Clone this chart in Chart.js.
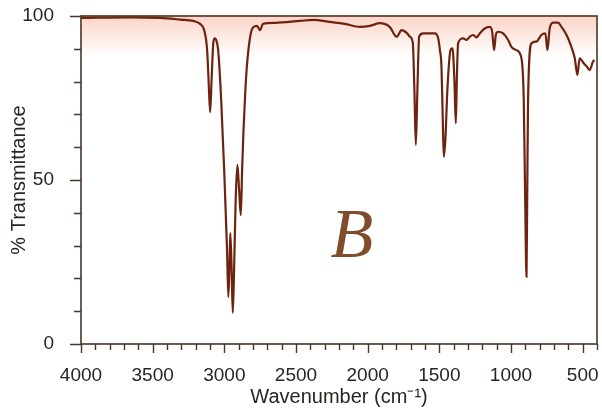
<!DOCTYPE html>
<html>
<head>
<meta charset="utf-8">
<script src="https://cdn.jsdelivr.net/npm/chart.js@4/dist/chart.umd.min.js"></script>
<style>
  html, body { margin: 0; padding: 0; background: #ffffff; }
  #wrap { width: 602px; height: 410px; }
</style>
</head>
<body>
<div id="wrap"><canvas id="c" width="602" height="410"></canvas></div>
<script>
// ---- data ----
const wavenumbers = [
  4000, 3656, 3447, 3308, 3217, 3169, 3141, 3120, 3107, 3099, 3089, 3078, 3069, 3057, 3043,
  3022, 3001, 2981, 2972, 2963, 2958, 2949, 2941, 2932, 2921, 2909, 2897, 2885, 2876, 2867,
  2855, 2843, 2820, 2799, 2772, 2751, 2730, 2646, 2472, 2381, 2263, 2158, 2054, 1984, 1915,
  1845, 1798, 1763, 1726, 1705, 1685, 1674, 1664, 1653, 1641, 1613, 1566, 1531, 1508, 1496,
  1485, 1476, 1469, 1458, 1444, 1422, 1408, 1395, 1385, 1378, 1369, 1334, 1310, 1287, 1264,
  1241, 1218, 1183, 1148, 1131, 1118, 1106, 1090, 1055, 1020, 997, 962, 927, 911, 901,
  892, 887, 881, 857, 823, 788, 760, 746, 730, 707, 672, 648, 625, 602, 579,
  555, 537, 521, 493, 470, 451, 428, 417
];
const transmittance = [
  99.4, 99.6, 99.4, 98.9, 98.5, 97.6, 95.7, 89.6, 77.4, 70.7, 80.5, 91.2, 93.2, 92.7, 89.6,
  74.4, 53.0, 28.7, 14.3, 25.6, 33.8, 22.6, 9.5, 22.6, 43.9, 54.6, 47.0, 39.3, 53.0, 64.3,
  75.9, 84.5, 93.6, 96.6, 97.0, 95.7, 97.6, 97.9, 98.5, 98.8, 98.2, 97.6, 96.7, 97.0, 97.8,
  96.6, 93.7, 95.7, 94.8, 93.7, 91.8, 77.4, 60.7, 77.4, 93.7, 94.7, 94.7, 94.7, 93.2, 89.6,
  84.5, 68.3, 57.1, 62.2, 77.4, 89.6, 90.1, 80.5, 67.3, 80.5, 91.7, 93.2, 92.7, 93.7, 94.2,
  93.5, 94.7, 96.2, 96.7, 95.1, 89.6, 94.2, 95.2, 94.7, 92.7, 90.6, 89.6, 87.1, 74.4, 43.9,
  20.5, 43.9, 74.4, 91.7, 92.2, 94.2, 94.7, 89.6, 96.2, 98.0, 98.0, 96.7, 95.2, 93.2, 90.6,
  87.1, 82.0, 87.1, 85.6, 84.5, 83.5, 86.1, 86.6
];
const xLabelValues = [4000, 3500, 3000, 2500, 2000, 1500, 1000, 500];
const yLabelValues = [0, 50, 100];
const annotationText = 'B';
const annotationAt = { x: 2110, y: 32 };

const FONT = "'Liberation Sans', Arial, Helvetica, sans-serif";
const AXIS_COLOR = '#4a3526';
const TEXT_COLOR = '#2b2522';

const points = wavenumbers.map((w, i) => ({ x: w, y: transmittance[i] }));

const framePlugin = {
  id: 'frame',
  beforeDatasetsDraw(chart) {
    const { ctx, chartArea: a, scales } = chart;
    // faint orange tint of the scanned paper near 100 %
    const y100 = scales.y.getPixelForValue(100);
    const y90 = scales.y.getPixelForValue(88);
    const g = ctx.createLinearGradient(0, y100, 0, y90);
    g.addColorStop(0, 'rgba(244,120,80,0.32)');
    g.addColorStop(1, 'rgba(244,120,80,0)');
    ctx.save();
    ctx.fillStyle = g;
    ctx.fillRect(a.left, y100, a.right - a.left, y90 - y100);
    ctx.restore();
  },
  afterDraw(chart) {
    const { ctx, chartArea: a, scales } = chart;
    const xs = scales.x, ys = scales.y;
    ctx.save();
    ctx.strokeStyle = AXIS_COLOR;
    ctx.lineWidth = 1.6;
    ctx.strokeRect(a.left, a.top, a.right - a.left, a.bottom - a.top);
    ctx.lineWidth = 1.4;
    ctx.beginPath();
    for (let v = 400; v <= 4000; v += 100) {
      const px = Math.round(xs.getPixelForValue(v)) + 0.5;
      const len = v % 500 === 0 ? 9 : 6;
      ctx.moveTo(px, a.bottom);
      ctx.lineTo(px, a.bottom + len);
    }
    for (let v = 0; v <= 100; v += 10) {
      const py = Math.round(ys.getPixelForValue(v)) + 0.5;
      const len = v % 50 === 0 ? 11 : 7;
      ctx.moveTo(a.left - len, py);
      ctx.lineTo(a.left, py);
    }
    ctx.stroke();
    // handwritten-style annotation
    ctx.fillStyle = '#7f4d2b';
    ctx.font = "italic 70px 'Liberation Serif', serif";
    ctx.textAlign = 'center';
    ctx.textBaseline = 'middle';
    ctx.fillText(annotationText, xs.getPixelForValue(annotationAt.x), ys.getPixelForValue(annotationAt.y));
    ctx.restore();
  }
};

new Chart(document.getElementById('c'), {
  type: 'line',
  data: {
    datasets: [{
      label: '% Transmittance',
      data: points,
      borderColor: '#6e230e',
      borderWidth: 2.2,
      pointRadius: 0,
      cubicInterpolationMode: 'monotone',
      fill: false
    }]
  },
  options: {
    responsive: false,
    animation: false,
    devicePixelRatio: 1,
    layout: { padding: { left: 0, right: 5, top: 16, bottom: 0 } },
    plugins: { legend: { display: false }, tooltip: { enabled: false } },
    scales: {
      x: {
        type: 'linear',
        reverse: true,
        min: 400,
        max: 4000,
        afterFit(s) { s.height = 66; s.paddingLeft = 0; s.paddingRight = 0; },
        grid: { display: false },
        border: { display: false },
        ticks: {
          stepSize: 100,
          autoSkip: false,
          maxRotation: 0,
          padding: 12,
          color: TEXT_COLOR,
          font: { family: FONT, size: 19 },
          callback: v => (xLabelValues.includes(v) ? String(v) : '')
        },
        title: {
          display: true,
          text: 'Wavenumber (cm\u207B\u00B9)',
          color: TEXT_COLOR,
          font: { family: FONT, size: 20 },
          padding: { top: 0, bottom: 1 }
        }
      },
      y: {
        min: 0,
        max: 100,
        afterFit(s) { s.width = 81; s.paddingTop = 0; s.paddingBottom = 0; },
        grid: { display: false },
        border: { display: false },
        ticks: {
          stepSize: 10,
          autoSkip: false,
          padding: 19,
          color: TEXT_COLOR,
          font: { family: FONT, size: 19 },
          callback: v => (yLabelValues.includes(v) ? String(v) : '')
        },
        title: {
          display: true,
          text: '% Transmittance',
          color: TEXT_COLOR,
          font: { family: FONT, size: 20 },
          padding: { top: 7, bottom: 0 }
        }
      }
    }
  },
  plugins: [framePlugin]
});
</script>
</body>
</html>
